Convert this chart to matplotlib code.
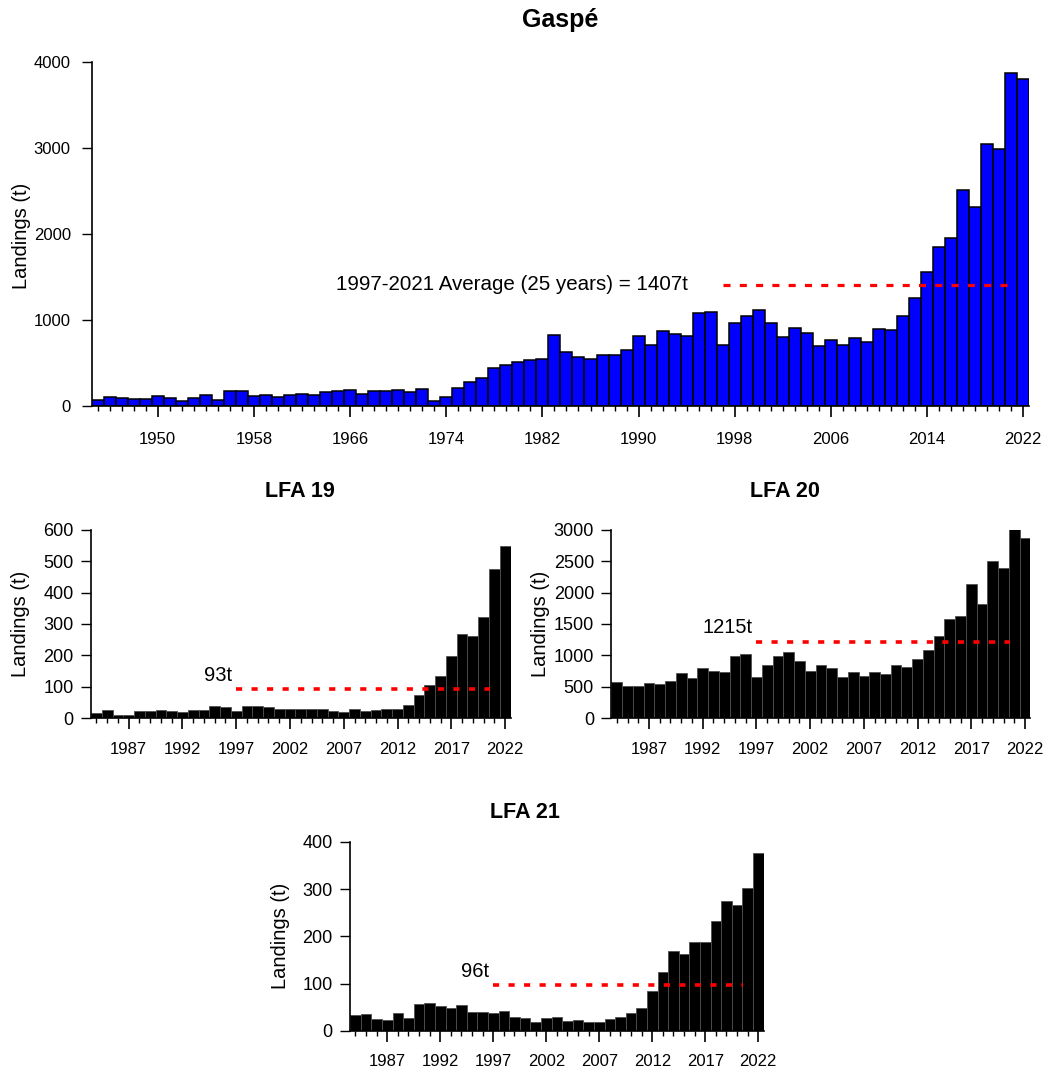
import matplotlib.pyplot as plt
import numpy as np

plt.rcParams['font.family'] = ['Liberation Sans', 'DejaVu Sans']

# donnees (debarquements en t)
annees_gaspe = list(range(1945, 2023))
gaspe = [70, 108, 93, 85, 85, 116, 93, 62, 89, 124,
         70, 178, 178, 116, 132, 101, 128, 136, 124, 163,
         174, 186, 143, 170, 174, 186, 159, 198, 54, 108,
         209, 283, 329, 446, 481, 512, 539, 543, 822, 624,
         570, 550, 593, 597, 655, 810, 705, 872, 837, 810,
         1078, 1093, 709, 965, 1050, 1116, 961, 798, 903, 845,
         702, 771, 709, 791, 748, 895, 884, 1047, 1252, 1558,
         1849, 1953, 2512, 2318, 3047, 2988, 3876, 3806]

annees_lfa = list(range(1984, 2023))
lfa19 = [16, 27, 11, 11, 22, 22, 27, 23, 19, 25,
         25, 40, 36, 24, 38, 40, 36, 31, 28, 30,
         29, 29, 24, 20, 29, 24, 25, 29, 31, 42,
         73, 106, 134, 199, 269, 262, 321, 475, 549]
lfa20 = [578, 519, 519, 567, 541, 599, 721, 636, 800, 758,
         742, 991, 1023, 657, 843, 986, 1055, 917, 747, 853,
         800, 657, 737, 678, 742, 705, 843, 816, 938, 1087,
         1314, 1585, 1627, 2131, 1813, 2507, 2396, 3101, 2873]
lfa21 = [33, 35, 25, 23, 37, 27, 57, 59, 52, 49,
         54, 39, 40, 38, 42, 28, 26, 19, 26, 30,
         21, 22, 18, 18, 25, 28, 37, 49, 84, 124,
         170, 163, 189, 187, 233, 274, 266, 302, 377]

moy_gaspe = 1407
moy_lfa = {"LFA 19": 93, "LFA 20": 1215, "LFA 21": 96}

W, H = 1046, 1072
fig = plt.figure(figsize=(W / 100, H / 100), dpi=100)


def px_axes(x0, x1, ytop, ybot):
    return fig.add_axes([x0 / W, 1 - ybot / H, (x1 - x0) / W, (ybot - ytop) / H])


def panneau(ax, annees, valeurs, couleur, bord, lw, ymax, ypas, pas_lab, lab0, xpad, yfs, ypad):
    ax.bar(annees, valeurs, width=1.0, color=couleur, edgecolor=bord, linewidth=lw)
    ax.set_xlim(annees[0] - 0.5, annees[-1] + 0.5)
    ax.set_ylim(0, ymax)
    ax.spines[['top', 'right']].set_visible(False)
    ax.spines['left'].set_bounds(0, ymax)
    ax.set_yticks(np.arange(0, ymax + 1, ypas))
    ax.tick_params(axis='y', direction='out', length=7, width=1, labelsize=yfs, pad=ypad)
    ax.set_xticks(annees, minor=True)
    ax.set_xticks(list(range(lab0, annees[-1] + 1, pas_lab)))
    ax.tick_params(axis='x', which='major', length=8, width=1.2, labelsize=12, pad=xpad)
    ax.tick_params(axis='x', which='minor', length=3.3, width=1)
    for s in ax.spines.values():
        s.set_linewidth(1.2)


# --- Gaspe ---
ax = px_axes(91.6, 1029.3, 62, 406)
panneau(ax, annees_gaspe, gaspe, '#0000FF', 'black', 1.1, 4000, 1000, 8, 1950, 11, 12, 8)
ax.hlines(moy_gaspe, 1997, 2021, colors='#FF0000', linestyles=(0, (2.2, 2.9)), linewidth=2.3)
ax.text(1994.1, moy_gaspe, "1997-2021 Average (25 years) = %dt" % moy_gaspe,
        ha='right', va='center', fontsize=14.8)
fig.text(560 / W, 1 - 20 / H, "Gaspé", ha='center', va='center', fontsize=18, fontweight='bold')
fig.text(22 / W, 1 - 236 / H, "Landings (t)", rotation=90, ha='center', va='center', fontsize=14.5)

# --- LFA ---
panneaux = [
    ("LFA 19", lfa19, (91, 510.5, 529.7, 718.3), 600, 100, (300, 492), 21),
    ("LFA 20", lfa20, (611.4, 1030.4, 529.7, 718.3), 3000, 500, (785, 492), 541),
    ("LFA 21", lfa21, (350.2, 763.6, 842, 1030.7), 400, 100, (525, 812), 281),
]
for nom, valeurs, pos, ymax, ypas, pos_titre, x_ylab in panneaux:
    ax = px_axes(*pos)
    panneau(ax, annees_lfa, valeurs, 'black', '#505050', 0.6, ymax, ypas, 5, 1987, 9, 13, 5.5)
    moy = moy_lfa[nom]
    ax.hlines(moy, 1997, 2020.6, colors='#FF0000', linestyles=(0, (1.7, 2.6)), linewidth=2.6)
    ax.text(1996.6, moy + 0.074 * ymax, "%dt" % moy, ha='right', va='center', fontsize=14.5)
    fig.text(pos_titre[0] / W, 1 - pos_titre[1] / H, nom, ha='center', va='center',
             fontsize=15.5, fontweight='bold')
    fig.text(x_ylab / W, 1 - (pos[2] + pos[3]) / 2 / H, "Landings (t)", rotation=90,
             ha='center', va='center', fontsize=14.5)

fig.savefig("out.png", dpi=100)
